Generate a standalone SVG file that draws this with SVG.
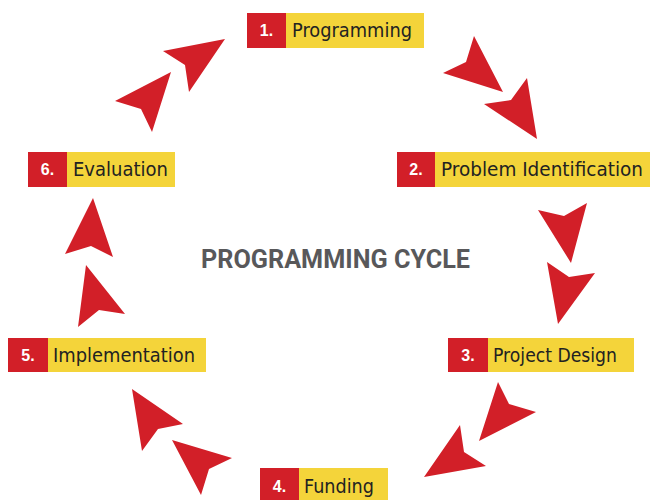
<svg xmlns="http://www.w3.org/2000/svg" width="650" height="500" viewBox="0 0 650 500">
<style>
.num{fill:#D21F28}
.lab{fill:#F4D43A}
.nt{font-family:"Liberation Sans",Arial,sans-serif;font-size:16px;font-weight:bold;fill:#fff;text-anchor:middle}
.lt{font-family:"DejaVu Sans","Liberation Sans",sans-serif;font-size:19px;fill:#222}
.arr{fill:#D21F28}
</style>
<rect width="650" height="500" fill="#fff"/>
<g id="n1">
<rect class="num" x="247" y="13" width="39" height="35"/><rect class="lab" x="286" y="13" width="138" height="35"/>
<text class="nt" x="266.5" y="36">1.</text><text class="lt" x="292" y="37" textLength="120" lengthAdjust="spacingAndGlyphs">Programming</text>
</g>
<g id="n2">
<rect class="num" x="397" y="152" width="38" height="35"/><rect class="lab" x="435" y="152" width="215" height="35"/>
<text class="nt" x="416" y="175">2.</text><text class="lt" x="441" y="176" textLength="202" lengthAdjust="spacingAndGlyphs">Problem Identification</text>
</g>
<g id="n3">
<rect class="num" x="448" y="338" width="40" height="34"/><rect class="lab" x="488" y="338" width="146" height="34"/>
<text class="nt" x="468" y="361">3.</text><text class="lt" x="493" y="362" textLength="124" lengthAdjust="spacingAndGlyphs">Project Design</text>
</g>
<g id="n4">
<rect class="num" x="260" y="468" width="39" height="35"/><rect class="lab" x="299" y="468" width="89" height="35"/>
<text class="nt" x="279.5" y="492">4.</text><text class="lt" x="304" y="493" textLength="70" lengthAdjust="spacingAndGlyphs">Funding</text>
</g>
<g id="n5">
<rect class="num" x="8" y="338" width="40" height="34"/><rect class="lab" x="48" y="338" width="158" height="34"/>
<text class="nt" x="28" y="361">5.</text><text class="lt" x="53" y="362" textLength="142" lengthAdjust="spacingAndGlyphs">Implementation</text>
</g>
<g id="n6">
<rect class="num" x="28" y="152" width="39" height="35"/><rect class="lab" x="67" y="152" width="108" height="35"/>
<text class="nt" x="47.5" y="175">6.</text><text class="lt" x="73" y="176" textLength="95" lengthAdjust="spacingAndGlyphs">Evaluation</text>
</g>
<g id="title">
<text x="201" y="268" font-family="Roboto,'Liberation Sans',sans-serif" font-weight="bold" font-size="26" fill="#58585A" textLength="269" lengthAdjust="spacingAndGlyphs">PROGRAMMING CYCLE</text>
</g>
<g id="connectors">
<polygon class="arr" points="225,39 163,51 185,65 189,92"/>
<polygon class="arr" points="171,72 115,101 141,109 152,132"/>
<polygon class="arr" points="474,36 466,62 443,73 503,92"/>
<polygon class="arr" points="527,78 511,100 484,104 537,139"/>
<polygon class="arr" points="538,210 564,216 587,203 571,263"/>
<polygon class="arr" points="547,262 569,277 595,273 558,324"/>
<polygon class="arr" points="498,382 509,404 536,412 479,441"/>
<polygon class="arr" points="460,425 464,452 486,466 424,477"/>
<polygon class="arr" points="132,389 183,424 158,429 142,451"/>
<polygon class="arr" points="172,440 232,458 209,469 201,495"/>
<polygon class="arr" points="93,198 113,257 91,246 65,254"/>
<polygon class="arr" points="86,265 125,314 99,310 78,327"/>
</g>
</svg>
